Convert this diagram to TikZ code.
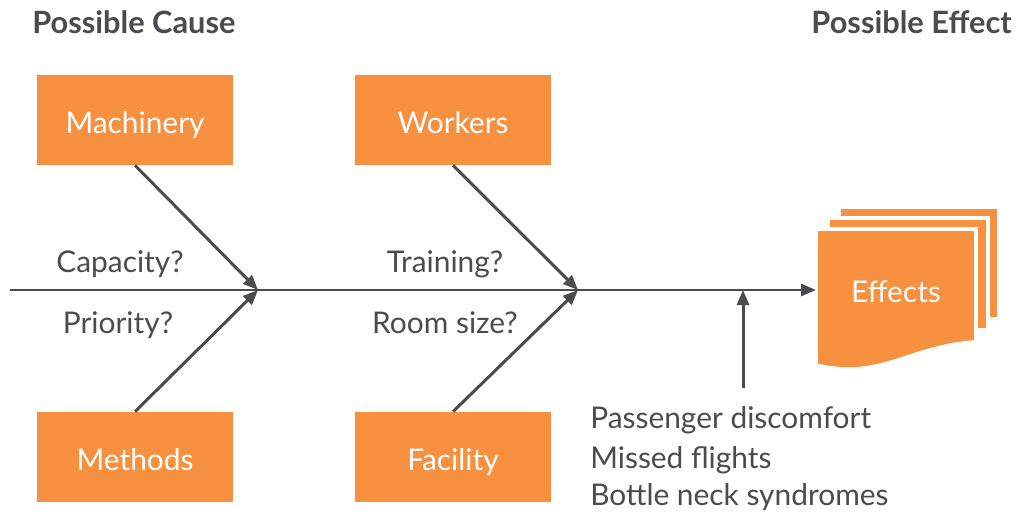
\documentclass[tikz,border=0pt]{standalone}
\usepackage{fontspec}
\setmainfont{Lato}
\usetikzlibrary{arrows.meta, positioning, calc}
\definecolor{corng}{RGB}{247,145, 63}
\definecolor{dgray}{RGB}{ 74, 74, 79}
\tikzset{
  % Orange category box (baseline sits 0.26cm under the centre)
  CB/.style={rectangle,fill=corng,text=white,
             minimum width=3.92cm,minimum height=1.8cm,
             text height=0.52cm,text depth=0pt,
             font=\fontsize{17}{20}\selectfont,inner sep=0pt},
  % Gray question label on a bone
  QL/.style={text=dgray,font=\fontsize{17}{20}\selectfont,
             inner sep=0pt,anchor=base},
  % Bold heading
  HD/.style={text=dgray,font=\fontsize{17.5}{20}\selectfont\bfseries,
             inner sep=0pt},
  % Stacked effect sheets
  SH/.style={fill=corng,draw=white,line width=2.2pt},
  % Arrows
  Arr/.style={-{Triangle[length=0.3cm,width=0.24cm]},line width=1.7pt,color=dgray},
}
\begin{document}
\begin{tikzpicture}
  \useasboundingbox (0,0) rectangle (20.32,10.32);
  % Headings
  \node[HD,anchor=base west] at (0.64,9.66) (hc) {Possible Cause};
  \node[HD,anchor=base east] at (20.24,9.66) (he) {Possible Effect};
  % Effects: three stacked documents
  \draw[SH] (16.78,6.18) rectangle (19.98,3.94);
  \draw[SH] (16.56,5.96) rectangle (19.76,3.72);
  \draw[SH] (16.32,5.74) -- (19.52,5.74) -- (19.52,3.48)
        .. controls (18.20,3.40) and (17.60,2.70) .. (16.32,3.02) -- cycle;
  \node[text=white,font=\fontsize{17}{20}\selectfont,anchor=base,
        inner sep=0pt] at (17.92,4.28) (eff) {Effects};
  % Spine
  \coordinate (tail) at (0.2,4.52);
  \coordinate (head) at (16.32,4.52);
  \coordinate (j1) at (5.16,4.52);
  \coordinate (j2) at (11.56,4.52);
  \coordinate (j3) at (14.86,4.52);
  \draw[Arr] (tail) -- (head);
  % Category boxes
  \node[CB] at (2.70,7.92) (mach) {Machinery};
  \node[CB] at (9.06,7.92) (work) {Workers};
  \node[CB] at (2.70,1.18) (meth) {Methods};
  \node[CB] at (9.06,1.18) (faci) {Facility};
  % Bones
  \draw[Arr] (mach.south) -- (j1);
  \draw[Arr] (meth.north) -- (j1);
  \draw[Arr] (work.south) -- (j2);
  \draw[Arr] (faci.north) -- (j2);
  % Questions
  \node[QL] at (2.40,4.88) (q1) {Capacity?};
  \node[QL] at (2.36,3.66) (q2) {Priority?};
  \node[QL] at (8.90,4.88) (q3) {Training?};
  \node[QL] at (8.90,3.66) (q4) {Room size?};
  % Observed effects
  \node[QL,anchor=base west] at (11.80,1.76) (o1) {Passenger discomfort};
  \node[QL,anchor=base west] at (11.80,0.96) (o2) {Missed flights};
  \node[QL,anchor=base west] at (11.80,0.22) (o3) {Bottle neck syndromes};
  \coordinate (ob) at (14.86,2.56);
  \draw[Arr] (ob) -- (j3);
\end{tikzpicture}
\end{document}
